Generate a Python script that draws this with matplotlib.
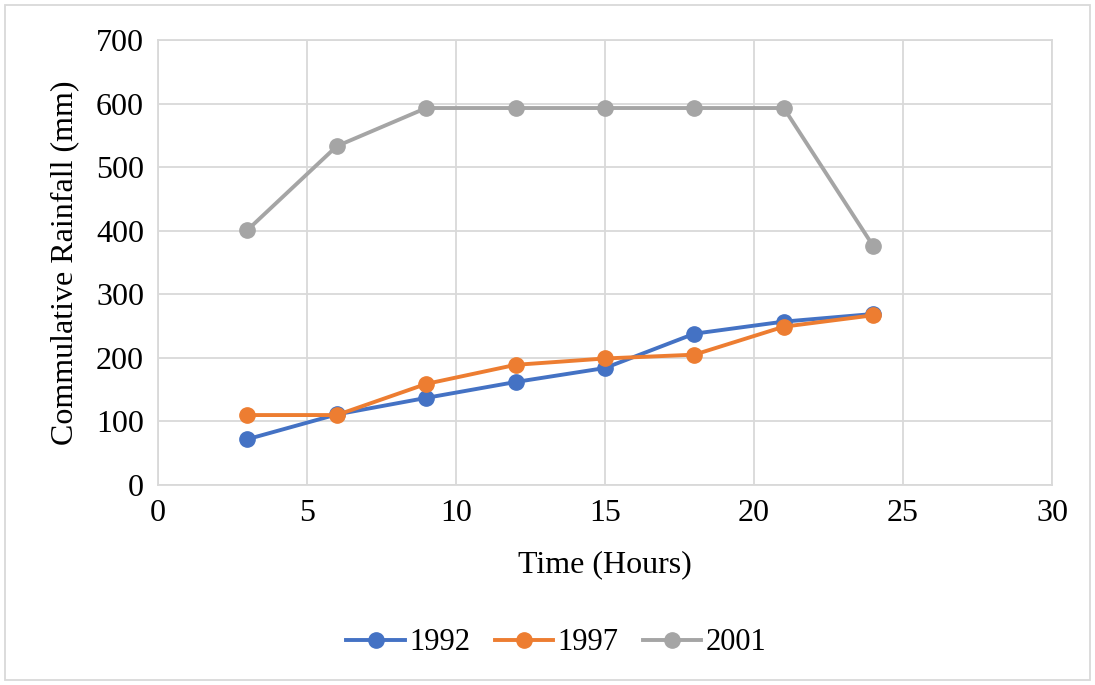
import matplotlib.pyplot as plt
from matplotlib.patches import Rectangle

hours = [3, 6, 9, 12, 15, 18, 21, 24]
rain_1992 = [72, 111, 137, 162, 184, 238, 257, 269]
rain_1997 = [110, 110, 159, 189, 199, 205, 249, 267]
rain_2001 = [401, 533, 593, 593, 593, 593, 593, 376]
series_names = ["1992", "1997", "2001"]
colors = ["#4472C4", "#ED7D31", "#A5A5A5"]

plt.rcParams['font.family'] = ['Liberation Serif', 'DejaVu Serif']

fig = plt.figure(figsize=(10.95, 6.85), dpi=100)
ax = fig.add_axes([0.1443, 0.292, 0.8164, 0.6496])

for vals, name, c in zip([rain_1992, rain_1997, rain_2001], series_names, colors):
    ax.plot(hours, vals, color=c, linewidth=2.8, marker="o", markersize=11,
            label=name, zorder=3)

ax.set_xlim(0, 30)
ax.set_ylim(0, 700)
ax.set_xticks(range(0, 31, 5))
ax.set_yticks(range(0, 701, 100))
ax.grid(True, color="#D9D9D9", linewidth=1.3)
ax.set_axisbelow(True)
for s in ax.spines.values():
    s.set_color("#D9D9D9")
    s.set_linewidth(1.3)
ax.tick_params(length=0, labelsize=23, pad=10)

ax.set_xlabel("Time (Hours)", fontsize=23, labelpad=16)
ax.set_ylabel("Commulative Rainfall (mm)", fontsize=23, labelpad=12)

fig.legend(loc="center", bbox_to_anchor=(0.508, 1 - 643 / 685), ncol=3,
           frameon=False, fontsize=22, handlelength=1.9, columnspacing=0.8,
           handletextpad=0.15)

# outer chart border
fig.patches.append(Rectangle((0.005, 0.007), 0.99, 0.985, transform=fig.transFigure,
                             fill=False, edgecolor="#D9D9D9", linewidth=1.3))

fig.savefig("out.png", dpi=100)
